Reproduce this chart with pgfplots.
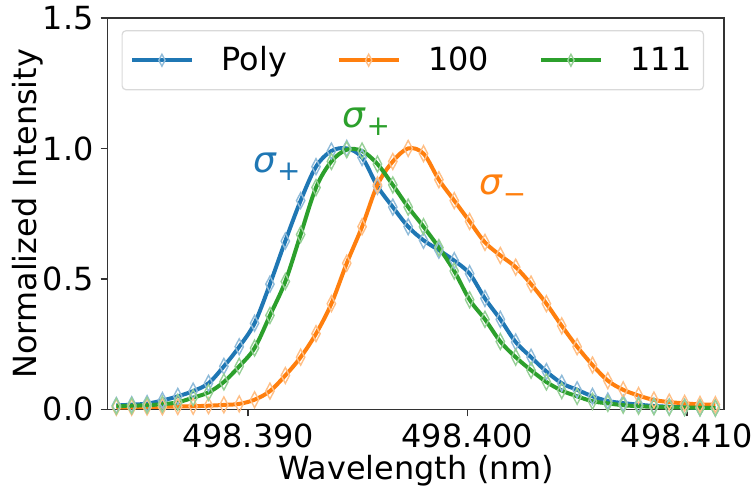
\documentclass[border=0pt]{standalone}
\usepackage{pgfplots}
\pgfplotsset{compat=1.18}
\usepackage{pgfplotstable}
\usepackage{fontspec}
\setmainfont{DejaVu Sans}

\definecolor{tabblue}{HTML}{1F77B4}
\definecolor{taborange}{HTML}{FF7F0E}
\definecolor{tabgreen}{HTML}{2CA02C}

% Normalized spectra, x in nm
\pgfplotstableread{
x y
498.3840 0.015
498.3847 0.018
498.3854 0.022
498.3861 0.034
498.3868 0.050
498.3875 0.070
498.3882 0.100
498.3889 0.165
498.3896 0.240
498.3903 0.330
498.3910 0.480
498.3917 0.645
498.3924 0.800
498.3931 0.930
498.3938 0.990
498.3945 1.000
498.3952 0.965
498.3959 0.855
498.3966 0.775
498.3973 0.700
498.3980 0.648
498.3987 0.610
498.3994 0.570
498.4001 0.520
498.4008 0.425
498.4015 0.345
498.4022 0.258
498.4029 0.200
498.4036 0.145
498.4043 0.100
498.4050 0.075
498.4057 0.050
498.4064 0.032
498.4071 0.024
498.4078 0.018
498.4085 0.013
498.4092 0.010
498.4099 0.008
498.4106 0.006
498.4113 0.005
}\poly

\pgfplotstableread{
x y
498.3840 0.008
498.3847 0.008
498.3854 0.009
498.3861 0.010
498.3868 0.011
498.3875 0.012
498.3882 0.014
498.3889 0.017
498.3896 0.021
498.3903 0.037
498.3910 0.070
498.3917 0.130
498.3924 0.200
498.3931 0.290
498.3938 0.405
498.3945 0.560
498.3952 0.700
498.3959 0.860
498.3966 0.950
498.3973 1.000
498.3980 0.980
498.3987 0.880
498.3994 0.800
498.4001 0.720
498.4008 0.640
498.4015 0.590
498.4022 0.545
498.4029 0.480
498.4036 0.405
498.4043 0.320
498.4050 0.240
498.4057 0.170
498.4064 0.110
498.4071 0.075
498.4078 0.053
498.4085 0.036
498.4092 0.028
498.4099 0.023
498.4106 0.019
498.4113 0.018
}\hundred

\pgfplotstableread{
x y
498.3840 0.012
498.3847 0.014
498.3854 0.016
498.3861 0.020
498.3868 0.027
498.3875 0.045
498.3882 0.065
498.3889 0.105
498.3896 0.165
498.3903 0.235
498.3910 0.360
498.3917 0.490
498.3924 0.670
498.3931 0.850
498.3938 0.950
498.3945 0.995
498.3952 0.990
498.3959 0.940
498.3966 0.860
498.3973 0.775
498.3980 0.700
498.3987 0.620
498.3994 0.530
498.4001 0.420
498.4008 0.345
498.4015 0.260
498.4022 0.200
498.4029 0.150
498.4036 0.105
498.4043 0.072
498.4050 0.050
498.4057 0.031
498.4064 0.023
498.4071 0.016
498.4078 0.012
498.4085 0.010
498.4092 0.008
498.4099 0.007
498.4106 0.006
498.4113 0.005
}\oneeleven

\newcommand{\sig}[1]{\textit{σ}{\fontsize{14}{14}\selectfont\raisebox{-0.3em}{#1}}}

\begin{document}
\begin{tikzpicture}
\begin{axis}[
    scale only axis,
    width=309.5pt, height=196.5pt,
    xmin=498.3836, xmax=498.4117,
    ymin=0, ymax=1.5,
    xtick={498.390,498.400,498.410},
    ytick={0,0.5,1.0,1.5},
    scaled x ticks=false,
    scaled y ticks=false,
    xticklabel style={/pgf/number format/.cd, fixed, fixed zerofill, precision=3, 1000 sep={}},
    yticklabel style={/pgf/number format/.cd, fixed, fixed zerofill, precision=1},
    /pgf/number format/assume math mode=true,
    tick label style={font=\fontsize{16}{19}\selectfont},
    label style={font=\fontsize{16}{19}\selectfont},
    xlabel={Wavelength (nm)},
    ylabel={Normalized Intensity},
    xlabel style={yshift=3pt},
    ylabel style={yshift=-7pt},
    tick align=outside,
    xtick pos=left, ytick pos=left,
    major tick length=3.5pt,
    axis line style={black!80, line width=0.8pt},
    every tick/.style={black!80, line width=0.8pt},
    legend columns=3,
    legend cell align=left,
    legend style={
        at={(0.0226,0.969)}, anchor=north west,
        draw=black!15, rounded corners=2pt, line width=0.6pt,
        font=\fontsize{16}{19}\selectfont,
        inner xsep=4pt, inner ysep=6pt,
        /tikz/every odd column/.append style={column sep=12pt},
        /tikz/every even column/.append style={column sep=23pt},
    },
    legend image code/.code={
        \draw[mark repeat=2, mark phase=2, mark size=3pt] plot coordinates {(0pt,0pt) (15pt,0pt) (30pt,0pt)};
    },
    every axis plot/.append style={
        line width=2pt,
        smooth, tension=0.55,
        mark=diamond,
        mark size=4pt,
    },
]
\addplot[tabblue, mark options={solid, xscale=0.7, draw=tabblue!50, fill=none, line width=0.7pt}] table[x=x, y=y] {\poly};
\addlegendentry{Poly}
\addplot[taborange, mark options={solid, xscale=0.7, draw=taborange!50, fill=none, line width=0.7pt}] table[x=x, y=y] {\hundred};
\addlegendentry{100}
\addplot[tabgreen, mark options={solid, xscale=0.7, draw=tabgreen!50, fill=none, line width=0.7pt}] table[x=x, y=y] {\oneeleven};
\addlegendentry{111}

\node[tabblue, font=\fontsize{18}{18}\selectfont] at (axis cs:498.39132,0.931) {\sig{+}};
\node[tabgreen, font=\fontsize{18}{18}\selectfont] at (axis cs:498.39540,1.103) {\sig{+}};
\node[taborange, font=\fontsize{18}{18}\selectfont] at (axis cs:498.40161,0.844) {\sig{−}};
\end{axis}
\pgfresetboundingbox
\path (-54pt,-39pt) rectangle (323pt,205.5pt);
\end{tikzpicture}
\end{document}
